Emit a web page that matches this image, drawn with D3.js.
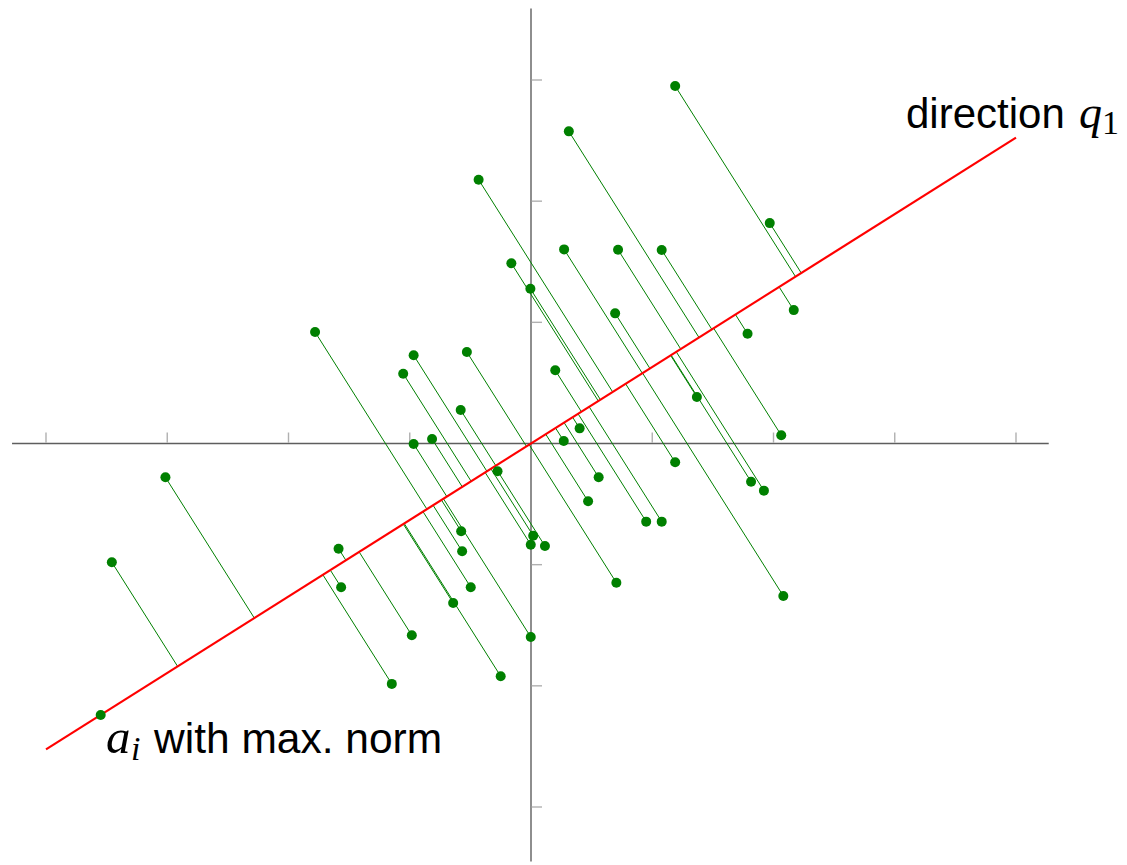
<!DOCTYPE html>
<html>
<head>
<meta charset="utf-8">
<script src="https://cdn.jsdelivr.net/npm/d3@7"></script>
<style>
  html, body { margin: 0; padding: 0; background: #fff; }
  svg { display: block; }
  .sans { font-family: "Liberation Sans", Arial, Helvetica, sans-serif; }
  .math { font-family: "Liberation Serif", "Times New Roman", serif; }
</style>
</head>
<body>
<svg id="chart" width="1127" height="865"></svg>
<script>
// Sample points a_i (x, y)
const pointsX = [1.189, 0.312, -0.432, 1.969, 0.273, 0.718, 1.078, -0.162, -0.005, 2.167,
                 0.694, -1.781, 1.786, -0.968, -0.529, -1.054, 0.200, 1.368, -0.580, 0.401,
                 2.064, -0.816, -0.968, 0.270, -0.276, -3.015, 1.189, 0.558, 1.815, 1.921,
                 0.471, 0.950, 1.078, -0.576, 0.018, -0.002, 0.115, -0.568, -3.457, -1.587,
                 -1.566, -0.497, -0.642, 0.704, 2.081, -0.983, -0.002, -1.148, -0.250, -3.549];
const pointsY = [2.950, 2.576, 2.177, 1.819, 1.602, 1.599, 1.597, 1.487, 1.277, 1.101,
                 1.074, 0.920, 0.906, 0.728, 0.755, 0.576, 0.604, 0.384, 0.276, 0.125,
                 0.068, 0.037, -0.004, 0.021, -0.229, -0.279, -0.155, -0.279, -0.315, -0.389,
                 -0.477, -0.645, -0.645, -0.724, -0.761, -0.835, -0.846, -0.889, -0.980, -0.868,
                 -1.186, -1.186, -1.316, -1.149, -1.258, -1.583, -1.597, -1.984, -1.921, -2.240];

// Axis ticks
const xTicks = [-4, -3, -2, -1, 1, 2, 3, 4];
const yTicks = [-3, -2, -1, 1, 2, 3];
// Axis extents
const xAxisExtent = [-4.28, 4.27];
const yAxisExtent = [-3.45, 3.59];
// The direction line spans this x range
const lineXExtent = [-4, 4];

const svg = d3.select("#chart");
const x = d3.scaleLinear().domain([-4, 4]).range([46, 1016]);
const y = d3.scaleLinear().domain([-3, 3]).range([807, 80]);

const pts = pointsX.map((px, i) => ({ x: px, y: pointsY[i] }));

// q1: unit vector along the point with largest norm
const amax = pts.reduce((a, b) => (Math.hypot(b.x, b.y) > Math.hypot(a.x, a.y) ? b : a));
const nrm = Math.hypot(amax.x, amax.y);
const q1 = { x: amax.x / nrm, y: amax.y / nrm };
const proj = p => {
  const t = p.x * q1.x + p.y * q1.y;
  return { x: t * q1.x, y: t * q1.y };
};

// axes
const axisG = svg.append("g");
axisG.append("line")
  .attr("x1", x(xAxisExtent[0])).attr("x2", x(xAxisExtent[1]))
  .attr("y1", y(0)).attr("y2", y(0))
  .attr("stroke", "#5e5e5e").attr("stroke-width", 1.4);
axisG.append("line")
  .attr("x1", x(0)).attr("x2", x(0))
  .attr("y1", y(yAxisExtent[0])).attr("y2", y(yAxisExtent[1]))
  .attr("stroke", "#5e5e5e").attr("stroke-width", 1.4);

axisG.selectAll(".xt").data(xTicks).join("line")
  .attr("x1", d => x(d)).attr("x2", d => x(d))
  .attr("y1", y(0) - 0.7).attr("y2", y(0) - 11)
  .attr("stroke", "#b0b0b0").attr("stroke-width", 1.4);
axisG.selectAll(".yt").data(yTicks).join("line")
  .attr("x1", x(0) + 0.7).attr("x2", x(0) + 11)
  .attr("y1", d => y(d)).attr("y2", d => y(d))
  .attr("stroke", "#b0b0b0").attr("stroke-width", 1.4);

// projection segments
svg.append("g").selectAll("line").data(pts).join("line")
  .attr("x1", d => x(d.x)).attr("y1", d => y(d.y))
  .attr("x2", d => x(proj(d).x)).attr("y2", d => y(proj(d).y))
  .attr("stroke", "#008000").attr("stroke-width", 1);

// direction line
svg.append("line")
  .attr("x1", x(lineXExtent[0])).attr("y1", y(lineXExtent[0] * q1.y / q1.x))
  .attr("x2", x(lineXExtent[1])).attr("y2", y(lineXExtent[1] * q1.y / q1.x))
  .attr("stroke", "#ff0000").attr("stroke-width", 2.2);

// points
svg.append("g").selectAll("circle").data(pts).join("circle")
  .attr("cx", d => x(d.x)).attr("cy", d => y(d.y))
  .attr("r", 5).attr("fill", "#008000");

// labels
const lab1 = svg.append("text").attr("y", 128).attr("font-size", 42);
lab1.append("tspan").attr("class", "sans").attr("x", 906).text("direction");
lab1.append("tspan").attr("class", "math").attr("font-style", "italic")
  .attr("font-size", 46).attr("x", 1079).text("q");
lab1.append("tspan").attr("class", "math").attr("font-size", 34)
  .attr("x", 1102).attr("dy", 5.5).text("1");

const lab2 = svg.append("text").attr("y", 753).attr("font-size", 42.5);
lab2.append("tspan").attr("class", "math").attr("font-style", "italic")
  .attr("font-size", 49).attr("x", 106).text("a");
lab2.append("tspan").attr("class", "math").attr("font-style", "italic")
  .attr("font-size", 34).attr("x", 131).attr("dy", 7).text("i");
lab2.append("tspan").attr("class", "sans").attr("x", 154).attr("dy", -7).text("with max. norm");
</script>
</body>
</html>
